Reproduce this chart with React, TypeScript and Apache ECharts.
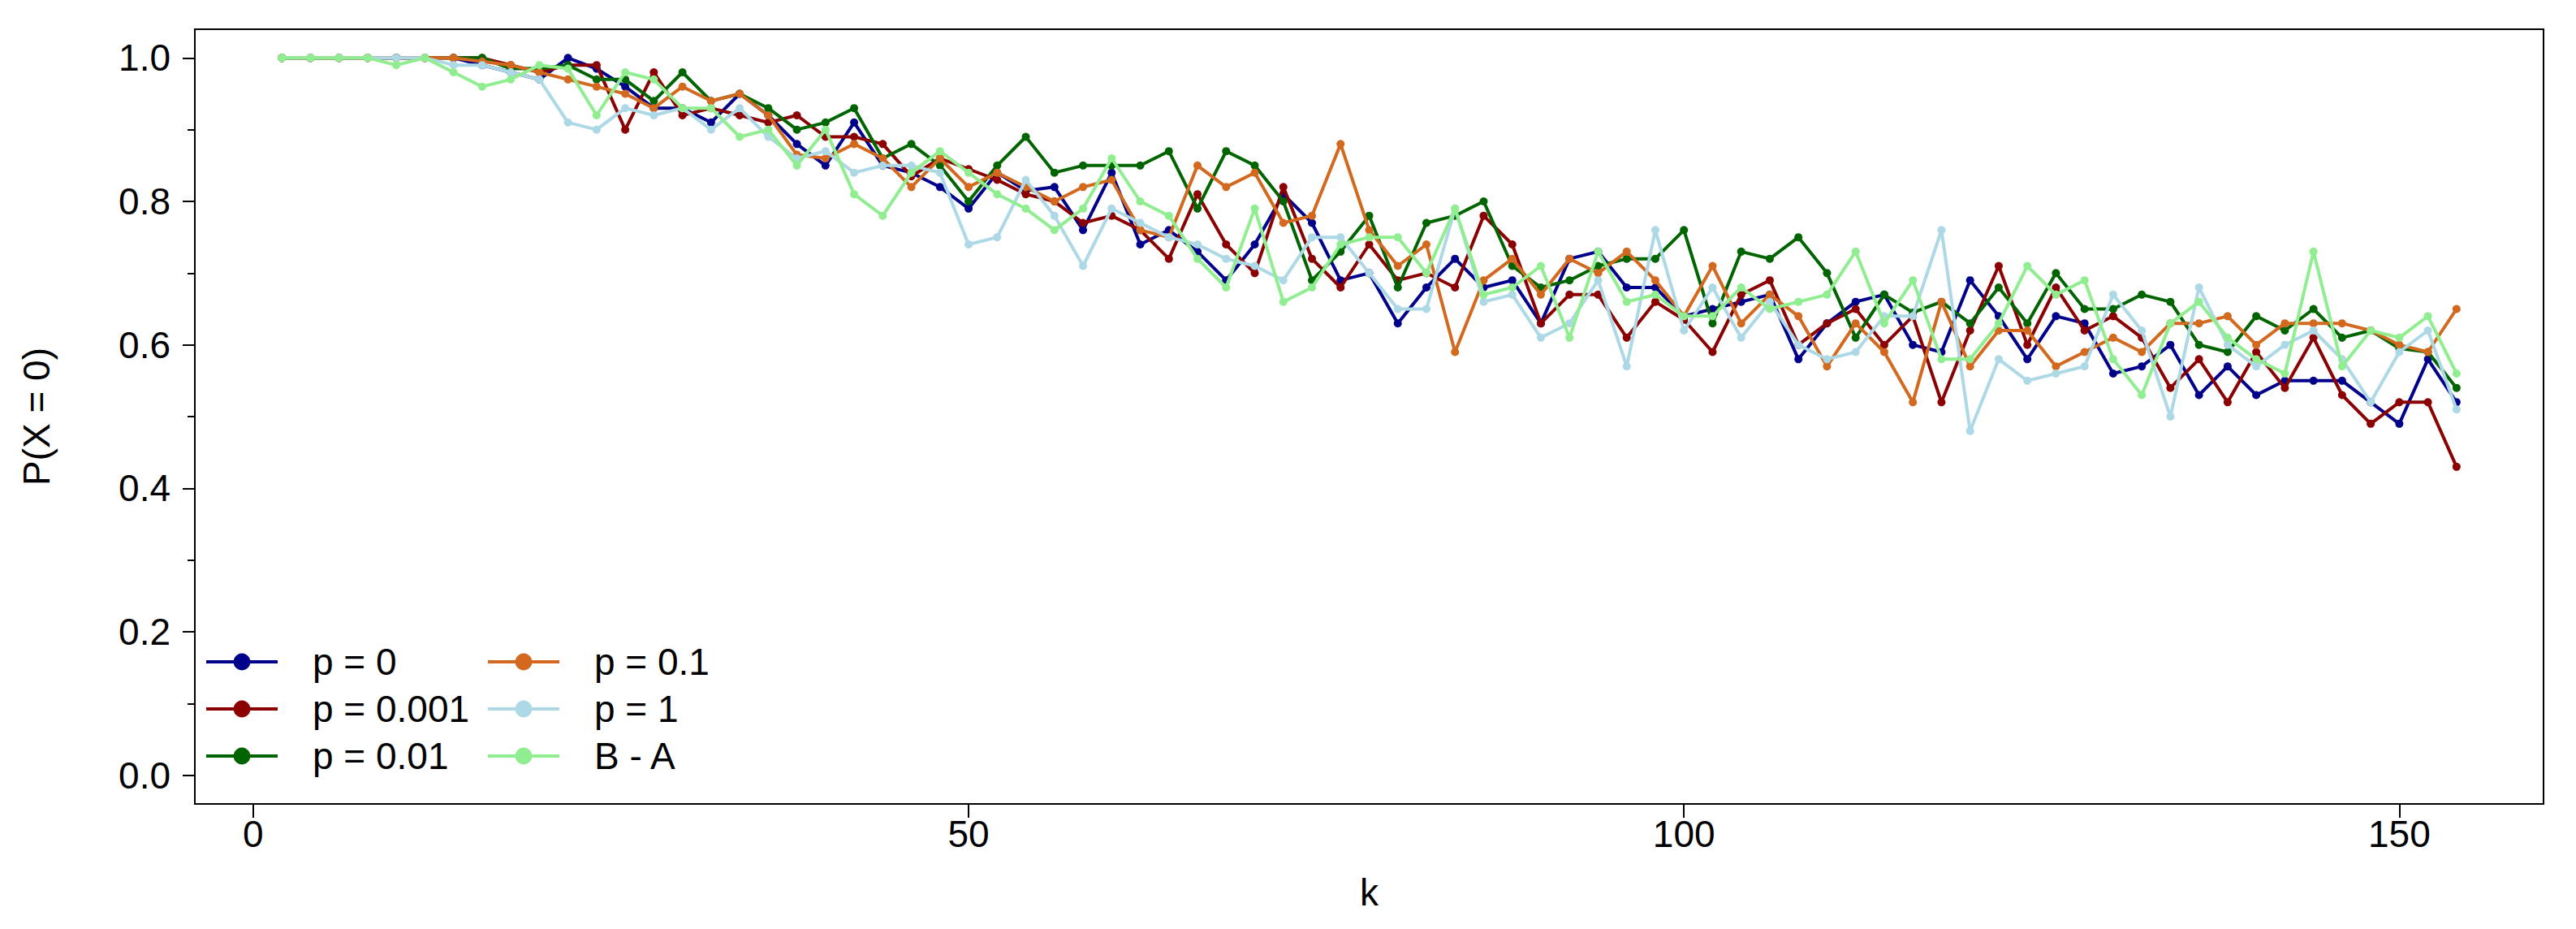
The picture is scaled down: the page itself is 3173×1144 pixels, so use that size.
import { useEffect, useRef } from "react";
import * as echarts from "echarts";

const K = [2, 4, 6, 8, 10, 12, 14, 16, 18, 20, 22, 24, 26, 28, 30, 32, 34, 36, 38, 40, 42, 44, 46, 48, 50, 52, 54, 56, 58, 60, 62, 64, 66, 68, 70, 72, 74, 76, 78, 80, 82, 84, 86, 88, 90, 92, 94, 96, 98, 100, 102, 104, 106, 108, 110, 112, 114, 116, 118, 120, 122, 124, 126, 128, 130, 132, 134, 136, 138, 140, 142, 144, 146, 148, 150, 152, 154];

const P_0 = [1, 1, 1, 1, 1, 1, 1, 0.99, 0.98, 0.97, 1.0, 0.985,
  0.96, 0.93, 0.93, 0.91, 0.95, 0.92, 0.88, 0.85, 0.91, 0.85, 0.84,
  0.82, 0.79, 0.84, 0.815, 0.82, 0.76, 0.84, 0.74, 0.76, 0.73, 0.69,
  0.74, 0.81, 0.77, 0.69, 0.70, 0.63, 0.68, 0.72, 0.68, 0.69, 0.63, 0.72,
  0.73, 0.68, 0.68, 0.64, 0.65, 0.66, 0.67, 0.58, 0.63, 0.66, 0.67,
  0.60, 0.59, 0.69, 0.64, 0.58, 0.64, 0.63, 0.56, 0.57, 0.60, 0.53,
  0.57, 0.53, 0.55, 0.55, 0.55, 0.52, 0.49, 0.58, 0.52];

const P_0001 = [1, 1, 1, 1, 1, 1, 1, 1.0, 0.99, 0.98, 0.99, 0.99,
  0.90, 0.98, 0.92, 0.93, 0.92, 0.91, 0.92, 0.89, 0.89, 0.88, 0.835,
  0.86, 0.845, 0.83, 0.81, 0.80, 0.77, 0.78, 0.76, 0.72, 0.81, 0.74,
  0.70, 0.82, 0.72, 0.68, 0.74, 0.69, 0.70, 0.68, 0.78, 0.74, 0.63, 0.67,
  0.67, 0.61, 0.66, 0.635, 0.59, 0.67, 0.69, 0.60, 0.63, 0.65, 0.60,
  0.64, 0.52, 0.62, 0.71, 0.60, 0.68, 0.62, 0.64, 0.61, 0.54, 0.58,
  0.52, 0.59, 0.54, 0.61, 0.53, 0.49, 0.52, 0.52, 0.43];

const P_001 = [1, 1, 1, 1, 1, 1, 1, 1.0, 0.985, 0.985, 0.99, 0.97,
  0.97, 0.94, 0.98, 0.94, 0.95, 0.93, 0.90, 0.91, 0.93, 0.86, 0.88,
  0.85, 0.80, 0.85, 0.89, 0.84, 0.85, 0.85, 0.85, 0.87, 0.79, 0.87,
  0.85, 0.80, 0.69, 0.73, 0.78, 0.68, 0.77, 0.78, 0.80, 0.71, 0.68, 0.69,
  0.71, 0.72, 0.72, 0.76, 0.63, 0.73, 0.72, 0.75, 0.70, 0.61, 0.67,
  0.645, 0.66, 0.63, 0.68, 0.63, 0.70, 0.65, 0.65, 0.67, 0.66, 0.60,
  0.59, 0.64, 0.62, 0.65, 0.61, 0.62, 0.595, 0.59, 0.54];

const P_01 = [1, 1, 1, 1, 1, 1, 1.0, 0.995, 0.99, 0.98, 0.97, 0.96,
  0.95, 0.93, 0.96, 0.94, 0.95, 0.92, 0.865, 0.86, 0.88, 0.86, 0.82,
  0.86, 0.82, 0.84, 0.82, 0.80, 0.82, 0.83, 0.76, 0.75, 0.85, 0.82,
  0.84, 0.77, 0.78, 0.88, 0.76, 0.71, 0.74, 0.59, 0.69, 0.72, 0.67, 0.72,
  0.70, 0.73, 0.69, 0.64, 0.71, 0.63, 0.67, 0.64, 0.57, 0.63, 0.59,
  0.52, 0.66, 0.57, 0.62, 0.62, 0.57, 0.59, 0.61, 0.59, 0.63, 0.63,
  0.64, 0.60, 0.63, 0.63, 0.63, 0.62, 0.60, 0.59, 0.65];

const P_1 = [1, 1, 1, 1, 1, 1, 0.99, 0.99, 0.98, 0.97, 0.91, 0.90,
  0.93, 0.92, 0.93, 0.90, 0.93, 0.89, 0.86, 0.87, 0.84, 0.85, 0.85,
  0.84, 0.74, 0.75, 0.83, 0.78, 0.71, 0.79, 0.77, 0.75, 0.74, 0.72,
  0.71, 0.69, 0.75, 0.75, 0.70, 0.65, 0.65, 0.79, 0.66, 0.67, 0.61, 0.63,
  0.69, 0.57, 0.76, 0.62, 0.68, 0.61, 0.66, 0.60, 0.58, 0.59, 0.64,
  0.64, 0.76, 0.48, 0.58, 0.55, 0.56, 0.57, 0.67, 0.62, 0.50, 0.68,
  0.60, 0.57, 0.60, 0.62, 0.58, 0.52, 0.59, 0.62, 0.51];

const B_A = [1, 1, 1, 1, 0.99, 1.0, 0.98, 0.96, 0.97, 0.99, 0.985, 0.92,
  0.98, 0.97, 0.93, 0.93, 0.89, 0.90, 0.85, 0.90, 0.81, 0.78, 0.84,
  0.87, 0.84, 0.81, 0.79, 0.76, 0.79, 0.86, 0.80, 0.78, 0.72, 0.68,
  0.79, 0.66, 0.68, 0.74, 0.75, 0.75, 0.70, 0.79, 0.67, 0.68, 0.71, 0.61,
  0.73, 0.66, 0.67, 0.64, 0.64, 0.68, 0.65, 0.66, 0.67, 0.73, 0.63,
  0.69, 0.58, 0.58, 0.63, 0.71, 0.67, 0.69, 0.58, 0.53, 0.63, 0.66,
  0.61, 0.58, 0.56, 0.73, 0.57, 0.62, 0.61, 0.64, 0.56];

const SERIES_NAMES = ["p = 0", "p = 0.001", "p = 0.01", "p = 0.1", "p = 1", "B - A"];
const SERIES_VALUES = [P_0, P_0001, P_001, P_01, P_1, B_A];
const COLORS = ["#00008B", "#8B0000", "#006400", "#D2691E", "#ADD8E6", "#90EE90"];

const X_TICKS = [0, 50, 100, 150];
const Y_TICKS = [0, 0.2, 0.4, 0.6, 0.8, 1.0];
const Y_MINOR_TICKS = [0.1, 0.3, 0.5, 0.7, 0.9];

const FONT = "'Liberation Sans', Arial, sans-serif";
const FS = 46;

export default function App() {
  const ref = useRef<HTMLDivElement>(null);

  useEffect(() => {
    document.body.style.margin = "0";
    const el = ref.current;
    if (!el) return;
    const chart = echarts.init(el, undefined, { renderer: "svg" });

    const series = SERIES_NAMES.map((name, i) => ({
      name,
      type: "line",
      data: K.map((k, j) => [k, SERIES_VALUES[i][j]]),
      symbol: "circle",
      symbolSize: 10,
      showSymbol: true,
      color: COLORS[i],
      lineStyle: { color: COLORS[i], width: 4 },
      itemStyle: { color: COLORS[i] },
      emphasis: { disabled: true },
      z: 2 + i,
    }));

    const legendBase = {
      orient: "vertical",
      padding: 0,
      itemWidth: 88,
      itemHeight: 26,
      itemGap: 12,
      selectedMode: false,
      lineStyle: { width: 4 },
      formatter: (n: string) => `{t|${n}}`,
      textStyle: {
        fontFamily: FONT,
        fontSize: FS,
        color: "#000",
        rich: { t: { fontFamily: FONT, fontSize: FS, color: "#000", padding: [0, 0, 0, 38] } },
      },
    };

    chart.setOption({
      animation: false,
      backgroundColor: "#fff",
      grid: {
        left: 240,
        top: 36,
        right: 40,
        bottom: 154,
        show: true,
        borderColor: "#000",
        borderWidth: 2,
        backgroundColor: "transparent",
        containLabel: false,
        outerBoundsMode: "none",
      },
      legend: [
        { ...legendBase, left: 252, top: 792, data: SERIES_NAMES.slice(0, 3) },
        { ...legendBase, left: 599, top: 792, data: SERIES_NAMES.slice(3, 6) },
      ],
      xAxis: {
        type: "value",
        min: -4.08,
        max: 160.08,
        name: "k",
        nameLocation: "middle",
        nameGap: 86,
        nameTextStyle: { fontFamily: FONT, fontSize: FS, color: "#000" },
        axisLine: { show: false, onZero: false },
        splitLine: { show: false },
        axisTick: {
          show: true,
          length: 17,
          lineStyle: { color: "#000", width: 2 },
          customValues: X_TICKS,
        },
        axisLabel: {
          fontFamily: FONT,
          fontSize: FS,
          color: "#000",
          margin: 14,
          customValues: X_TICKS,
          formatter: (v: number) => String(v),
        },
      },
      yAxis: [
        {
          type: "value",
          min: -0.04,
          max: 1.04,
          name: "P(X = 0)",
          nameLocation: "middle",
          nameGap: 172,
          nameTextStyle: { fontFamily: FONT, fontSize: FS, color: "#000" },
          axisLine: { show: false, onZero: false },
          splitLine: { show: false },
          axisTick: {
            show: true,
            length: 15,
            lineStyle: { color: "#000", width: 2 },
            customValues: Y_TICKS,
          },
          axisLabel: {
            fontFamily: FONT,
            fontSize: FS,
            color: "#000",
            margin: 30,
            customValues: Y_TICKS,
            formatter: (v: number) => v.toFixed(1),
          },
        },
        {
          type: "value",
          min: -0.04,
          max: 1.04,
          position: "left",
          axisLine: { show: false, onZero: false },
          splitLine: { show: false },
          axisLabel: { show: false },
          axisTick: {
            show: true,
            length: 9,
            lineStyle: { color: "#000", width: 2 },
            customValues: Y_MINOR_TICKS,
          },
        },
      ],
      series,
    });

    return () => {
      chart.dispose();
    };
  }, []);

  return (
    <div
      ref={ref}
      style={{ position: "absolute", left: 0, top: 0, width: 3173, height: 1144 }}
    />
  );
}
